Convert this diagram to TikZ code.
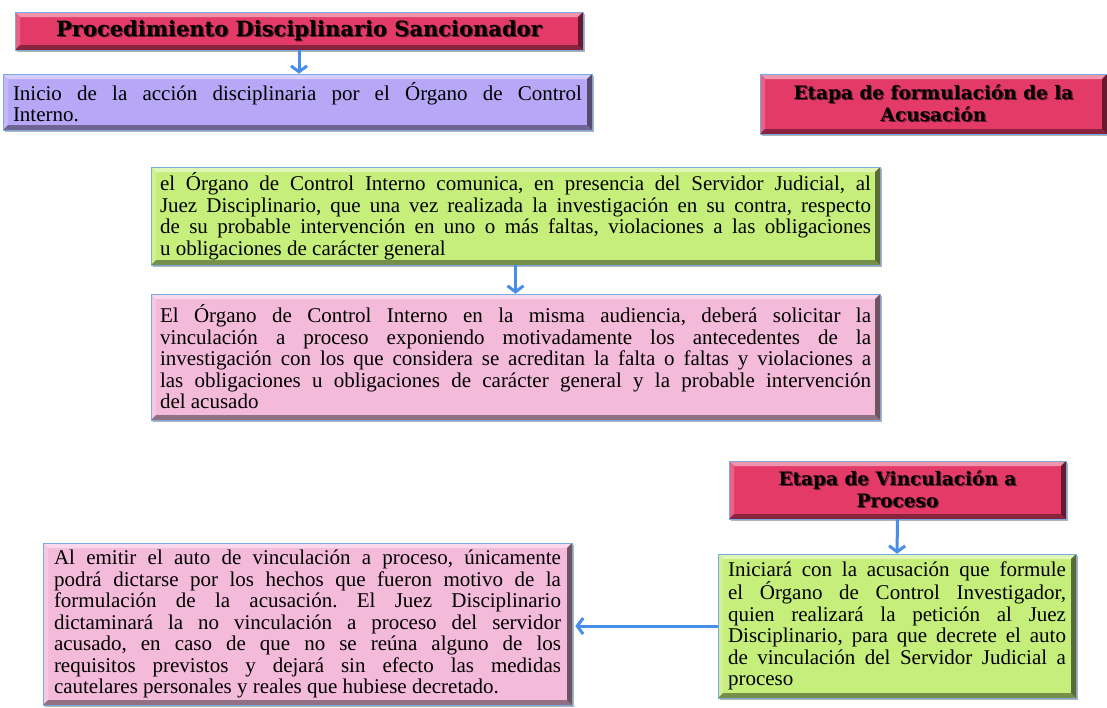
\documentclass[tikz,border=0pt]{standalone}
\usepackage{fontspec}
\setmainfont{Liberation Serif}
\newfontfamily\headfont{DejaVu Serif}
\usetikzlibrary{arrows.meta,shadows}

\definecolor{headred}{RGB}{228,58,104}
\definecolor{lilac}{RGB}{183,168,247}
\definecolor{limegreen}{RGB}{198,238,122}
\definecolor{rosepink}{RGB}{244,186,218}
\definecolor{arrowblue}{RGB}{72,142,232}
\definecolor{rimblue}{RGB}{120,170,225}

\newcommand\shadowed[1]{\leavevmode\rlap{\kern1.2pt\raisebox{-1.2pt}{\color{headred!45!black}#1}}#1}
\frenchspacing

\begin{document}
\begin{tikzpicture}[x=1pt,y=-1pt,
    bevel/.style={fill=#1,
      path picture={
        \coordinate (nw) at (path picture bounding box.north west);
        \coordinate (ne) at (path picture bounding box.north east);
        \coordinate (sw) at (path picture bounding box.south west);
        \coordinate (se) at (path picture bounding box.south east);
        \fill[#1!55!white] (nw)--(ne)--([shift={(-5pt,-5pt)}]ne)--([shift={(5pt,-5pt)}]nw)--cycle;
        \fill[#1!80!white] (nw)--([shift={(5pt,-5pt)}]nw)--([shift={(5pt,5pt)}]sw)--(sw)--cycle;
        \fill[#1!60!black] (sw)--(se)--([shift={(-5pt,5pt)}]se)--([shift={(5pt,5pt)}]sw)--cycle;
        \fill[#1!45!black] (ne)--(se)--([shift={(-5pt,5pt)}]se)--([shift={(-5pt,-5pt)}]ne)--cycle;
      }},
    box/.style={bevel=#1, draw=rimblue, line width=0.6pt, inner xsep=9pt, inner ysep=3pt,
      drop shadow={shadow xshift=1.5pt,shadow yshift=-1.5pt,opacity=.6}},
    headbox/.style={box=#1, align=center, font=\headfont\bfseries\fontsize{18.5}{22}\selectfont},
    textbox/.style={box=#1, align=justify, font=\fontsize{21}{21.5}\selectfont},
    flow/.style={draw=arrowblue, line width=3pt, -{Straight Barb[length=6pt,width=16pt]}}]

\useasboundingbox[fill=white] (0,0) rectangle (1107,707);

\node[headbox=headred, minimum width=568pt, minimum height=38pt, font=\headfont\bfseries\fontsize{21}{22}\selectfont] (title) at (299,31) {\shadowed{Procedimiento Disciplinario Sancionador}};
\node[textbox=lilac, minimum width=589pt, minimum height=56pt, text width=569pt] (start) at (297.5,102) {Inicio de la acción disciplinaria por el Órgano de Control\linebreak Interno.};
\node[headbox=headred, minimum width=347pt, minimum height=60pt] (formstage) at (933.5,104) {\shadowed{Etapa de formulación de la}\\\shadowed{Acusación}};

\node[textbox=limegreen, minimum width=729pt, minimum height=98pt, text width=711pt] (notice) at (515.5,216) {el Órgano de Control Interno comunica, en presencia del Servidor Judicial, al\linebreak Juez Disciplinario, que una vez realizada la investigación en su contra, respecto\linebreak de su probable intervención en uno o más faltas, violaciones a las obligaciones\linebreak u obligaciones de carácter general};
\node[textbox=rosepink, minimum width=729pt, minimum height=126pt, text width=711pt] (request) at (515.5,357) {El Órgano de Control Interno en la misma audiencia, deberá solicitar la\linebreak vinculación a proceso exponiendo motivadamente los antecedentes de la\linebreak investigación con los que considera se acreditan la falta o faltas y violaciones a\linebreak las obligaciones u obligaciones de carácter general y la probable intervención\linebreak del acusado};

\node[headbox=headred, minimum width=337pt, minimum height=58pt] (linkstage) at (897.5,490) {\shadowed{Etapa de Vinculación a}\\\shadowed{Proceso}};
\node[textbox=limegreen, minimum width=358pt, minimum height=144pt, text width=338pt] (accuse) at (897,626) {Iniciará con la acusación que formule\linebreak el Órgano de Control Investigador,\linebreak quien realizará la petición al Juez\linebreak Disciplinario, para que decrete el auto\linebreak de vinculación del Servidor Judicial a\linebreak proceso};
\node[textbox=rosepink, minimum width=529pt, minimum height=162pt, text width=507pt] (ruling) at (307.5,624) {Al emitir el auto de vinculación a proceso, únicamente\linebreak podrá dictarse por los hechos que fueron motivo de la\linebreak formulación de la acusación. El Juez Disciplinario\linebreak dictaminará la no vinculación a proceso del servidor\linebreak acusado, en caso de que no se reúna alguno de los\linebreak requisitos previstos y dejará sin efecto las medidas\linebreak cautelares personales y reales que hubiese decretado.};

\draw[flow] (title.south) -- (title.south |- start.north);
\draw[flow] (notice.south) -- (request.north);
\draw[flow] (linkstage.south) -- (accuse.north);
\draw[flow, shorten >=3pt] (accuse.west) -- (accuse.west -| ruling.east);
\end{tikzpicture}
\end{document}
